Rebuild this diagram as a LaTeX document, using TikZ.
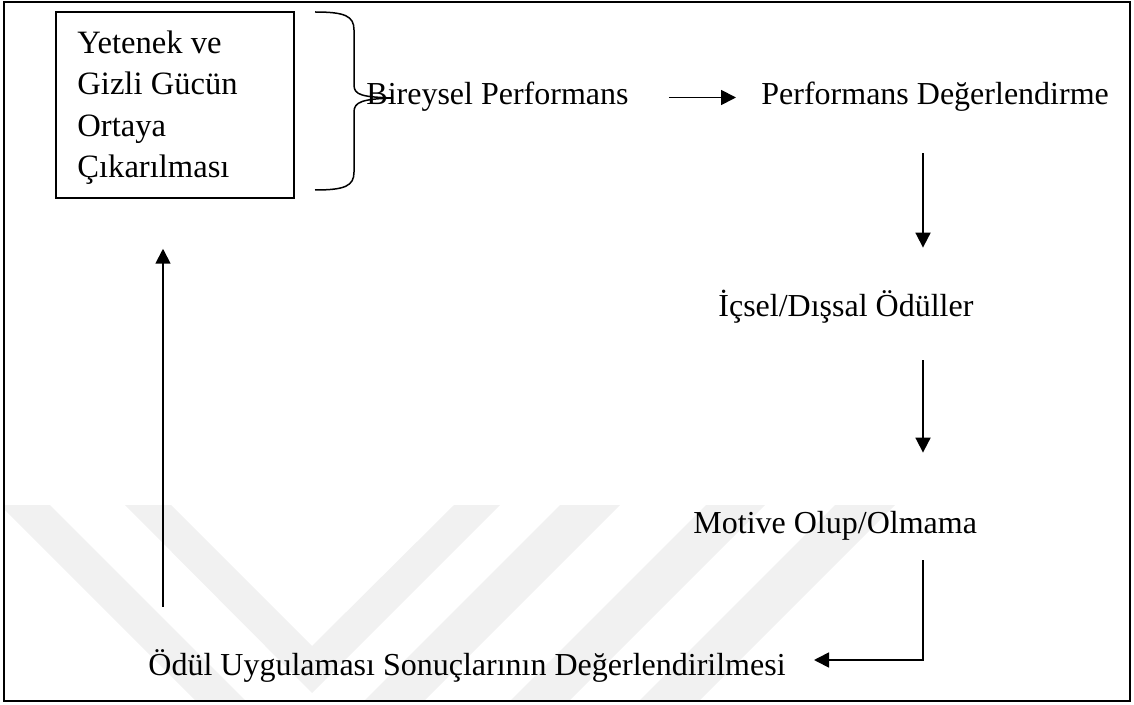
\documentclass[tikz,border=0pt]{standalone}
\usepackage{fontspec}
\setmainfont{Liberation Serif}
\usetikzlibrary{arrows.meta,calc}
\definecolor{wm}{HTML}{F1F1F1}
\begin{document}
\begin{tikzpicture}[x=0.5pt,y=-0.5pt,
  lbl/.style={inner sep=0pt, anchor=base west, text height=11pt, text depth=3.5pt, font=\fontsize{16}{20.8}\selectfont},
  arr/.style={line width=0.9pt, -{Triangle[length=7.5pt,width=7.5pt]}},
  ln/.style={line width=0.9pt},
  frame/.style={line width=1.2pt},
  thin/.style={line width=0.75pt}]
\useasboundingbox (0,0) rectangle (1134,705);
% watermark
\begin{scope}
\clip (4,2) rectangle (1130,701);
\fill[wm] (0,505) -- (50,505) -- (248,703) -- (198,703) -- cycle;
\fill[wm] (125,505) -- (171,505) -- (312,646) -- (454,505) -- (500,505) -- (312,693) -- cycle;
\fill[wm] (560,505) -- (620,505) -- (422,703) -- (362,703) -- cycle;
\fill[wm] (706,505) -- (765,505) -- (567,703) -- (508,703) -- cycle;
\fill[wm] (835,505) -- (895,505) -- (697,703) -- (637,703) -- cycle;
\end{scope}
% outer frame
\draw[frame] (4,2) rectangle (1130,701);
% box
\node[draw, thin, minimum width=119pt, minimum height=93pt, inner sep=0pt] (box) at (175,105) {};
\node[inner sep=0pt, anchor=north west, align=left, font=\fontsize{16.3}{20.8}\selectfont] (boxtext) at (77,30)
  {Yetenek ve\\Gizli Gücün\\Ortaya\\Çıkarılması};
% brace
\draw[thin] (315,12) .. controls (345,12) and (354,16) .. (354,30) -- (354,85)
  .. controls (354,95) and (362,97) .. (393,98);
\draw[thin] (393,98) .. controls (362,99) and (354,102) .. (354,112) -- (354,172)
  .. controls (354,186) and (345,190) .. (315,190);
% texts
\node[lbl] (bir) at (366,105) {Bireysel Performans};
\node[lbl] (perf) at (761,105) {Performans Değerlendirme};
\node[lbl] (ic) at (718,317) {İçsel/Dışsal Ödüller};
\node[lbl] (mot) at (693,533) {Motive Olup/Olmama};
\node[lbl] (odul) at (148,675) {Ödül Uygulaması Sonuçlarının Değerlendirilmesi};
% helper coordinates
\coordinate (rcol) at (923,0);
\coordinate (lcol) at (163,0);
\coordinate (turn) at (923,660);
% connectors
\draw[arr, shorten <=20pt, shorten >=12.5pt] (bir.east) -- (bir.east -| perf.west);
\draw[arr, shorten <=20.5pt, shorten >=23.5pt] (perf.south -| rcol) -- (ic.north -| rcol);
\draw[arr, shorten <=18pt, shorten >=29pt] (ic.south -| rcol) -- (mot.north -| rcol);
\draw[arr, shorten <=10pt, shorten >=14pt] (mot.south -| rcol) -- (turn) -- (turn -| odul.east);
\draw[arr, shorten <=23pt, shorten >=25pt] (odul.north -| lcol) -- (box.south -| lcol);
\end{tikzpicture}
\end{document}
